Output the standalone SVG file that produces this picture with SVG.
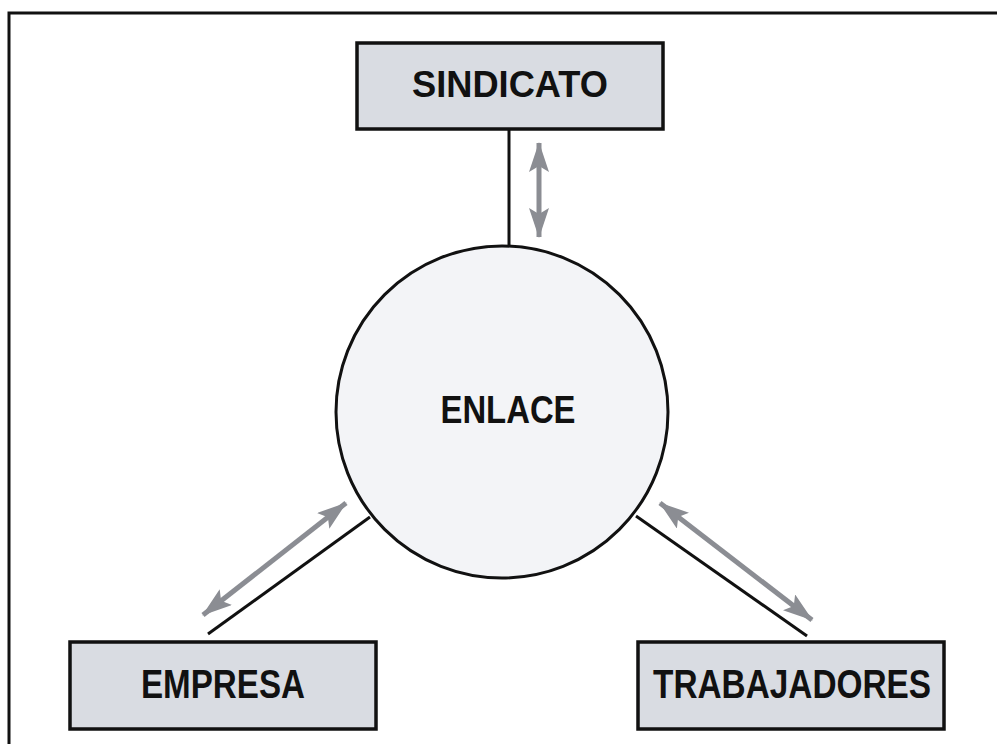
<svg xmlns="http://www.w3.org/2000/svg" width="997" height="744" viewBox="0 0 997 744">
<style>
.box{fill:#d9dce2;stroke:#111;stroke-width:3.5}
.lbl{font-family:"Liberation Sans",Arial,sans-serif;font-weight:bold;fill:#111;text-anchor:middle}
.link{stroke:#111;stroke-width:3;fill:none}
.arr{stroke:#8b8d93;stroke-width:5;fill:none;marker-start:url(#ah);marker-end:url(#ah)}
</style>
<defs>
<marker id="ah" markerUnits="userSpaceOnUse" viewBox="0 0 30 20" refX="29" refY="10" markerWidth="30" markerHeight="20" orient="auto-start-reverse">
<path d="M0,0 L30,10 L0,20 L6,10 z" fill="#8b8d93"/>
</marker>
</defs>
<rect width="997" height="744" fill="#fff"/>
<rect x="9" y="13" width="1000" height="760" fill="none" stroke="#111" stroke-width="3"/>
<g id="connectors">
<line class="link" x1="509" y1="129" x2="509" y2="246"/>
<line class="arr" x1="539" y1="143" x2="539" y2="237"/>
<line class="link" x1="370" y1="517" x2="208" y2="634"/>
<line class="arr" x1="346" y1="503" x2="203" y2="615"/>
<line class="link" x1="636" y1="516" x2="807" y2="636"/>
<line class="arr" x1="660" y1="503" x2="812" y2="620"/>
</g>
<g id="sindicato">
<rect class="box" x="357" y="43" width="306" height="86"/>
<text class="lbl" x="510" y="97" font-size="36" textLength="196" lengthAdjust="spacingAndGlyphs">SINDICATO</text>
</g>
<g id="enlace">
<circle cx="502" cy="412" r="166" fill="#f3f4f7" stroke="#111" stroke-width="3"/>
<text class="lbl" x="508" y="423" font-size="38" textLength="135" lengthAdjust="spacingAndGlyphs">ENLACE</text>
</g>
<g id="empresa">
<rect class="box" x="70" y="642" width="306" height="87"/>
<text class="lbl" x="223" y="698" font-size="41" textLength="164" lengthAdjust="spacingAndGlyphs">EMPRESA</text>
</g>
<g id="trabajadores">
<rect class="box" x="638" y="642" width="306" height="87"/>
<text class="lbl" x="792" y="698" font-size="40" textLength="278" lengthAdjust="spacingAndGlyphs">TRABAJADORES</text>
</g>
</svg>
